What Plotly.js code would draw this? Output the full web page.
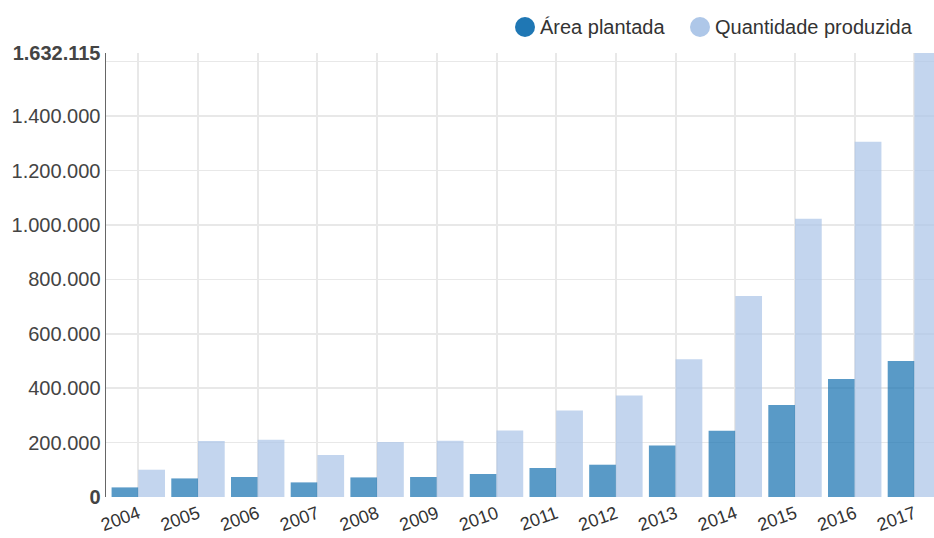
<!DOCTYPE html>
<html>
<head>
<meta charset="utf-8">
<script src="https://cdn.plot.ly/plotly-3.0.1.min.js"></script>
<style>html,body{margin:0;padding:0;background:#fff;}#chart{width:934px;height:538px;}</style>
</head>
<body>
<div id="chart"></div>
<script>
const years = ['2004','2005','2006','2007','2008','2009','2010','2011','2012','2013','2014','2015','2016','2017'];
const areaPlantada = [35300, 68300, 73500, 53700, 72000, 73500, 84500, 106600, 118700, 189600, 243600, 338000, 433600, 499700];
const quantidadeProduzida = [100300, 205800, 210600, 154300, 202100, 206900, 244700, 318200, 373300, 506000, 738600, 1022700, 1305600, 1632115];
const seriesNames = ['Área plantada', 'Quantidade produzida'];
const seriesColors = ['#1f77b4', '#aec7e8'];
const yTickVals = [0, 200000, 400000, 600000, 800000, 1000000, 1200000, 1400000, 1600000, 1632115];
const yTickText = ['<b>0</b>', '200.000', '400.000', '600.000', '800.000', '1.000.000', '1.200.000', '1.400.000', '', '<b>1.632.115</b>'];

const font = 'Liberation Sans, Arial, sans-serif';
const L = 106, W = 828, T = 53, H = 444;
const px = v => (v - L) / W;          // pixel -> paper x
const py = v => (T + H - v) / H;      // pixel -> paper y

const traces = [
  {type:'bar', x: years, y: areaPlantada, name: seriesNames[0], showlegend:false,
   marker:{color: seriesColors[0], opacity:0.74}, hoverinfo:'skip'},
  {type:'bar', x: years, y: quantidadeProduzida, name: seriesNames[1], showlegend:false,
   marker:{color: seriesColors[1], opacity:0.74}, hoverinfo:'skip'}
];

// custom legend (circle + label), positioned in paper coordinates
const legendItems = [
  {cx: 525, tx: 538},
  {cx: 700, tx: 713}
];
const shapes = legendItems.map((it, i) => ({
  type:'circle', xref:'paper', yref:'paper',
  x0: px(it.cx - 10), x1: px(it.cx + 10), y0: py(37), y1: py(17),
  fillcolor: seriesColors[i], line:{width:0}
}));
const annotations = legendItems.map((it, i) => ({
  xref:'paper', yref:'paper', x: px(it.tx), y: py(27), xanchor:'left', yanchor:'middle',
  text: seriesNames[i], showarrow:false, font:{family: font, size:20, color:'#333'}
}));

const layout = {
  width:934, height:538,
  margin:{l:L, r:0, t:T, b:41, pad:0},
  paper_bgcolor:'#fff', plot_bgcolor:'#fff',
  font:{family: font, size:18, color:'#444'},
  barmode:'group', bargap:0.105, bargroupgap:0,
  showlegend:false,
  shapes: shapes,
  annotations: annotations,
  xaxis:{type:'category', range:[-0.541, 13.328], showgrid:true, gridcolor:'#e8e8e8', gridwidth:2,
         showline:false, zeroline:false, ticks:'', tickangle:-20, ticklabelstandoff:2,
         tickfont:{family: font, size:18, color:'#333'}, fixedrange:true},
  yaxis:{range:[0, 1632115], tickmode:'array', tickvals:yTickVals, ticktext:yTickText,
         showgrid:true, gridcolor:'#e8e8e8', gridwidth:1.5, zeroline:false,
         showline:true, linecolor:'#666', linewidth:1.5, ticks:'', ticklen:0,
         tickfont:{family: font, size:20, color:'#444'}, fixedrange:true}
};
Plotly.newPlot('chart', traces, layout, {displayModeBar:false, staticPlot:true});
</script>
</body>
</html>
